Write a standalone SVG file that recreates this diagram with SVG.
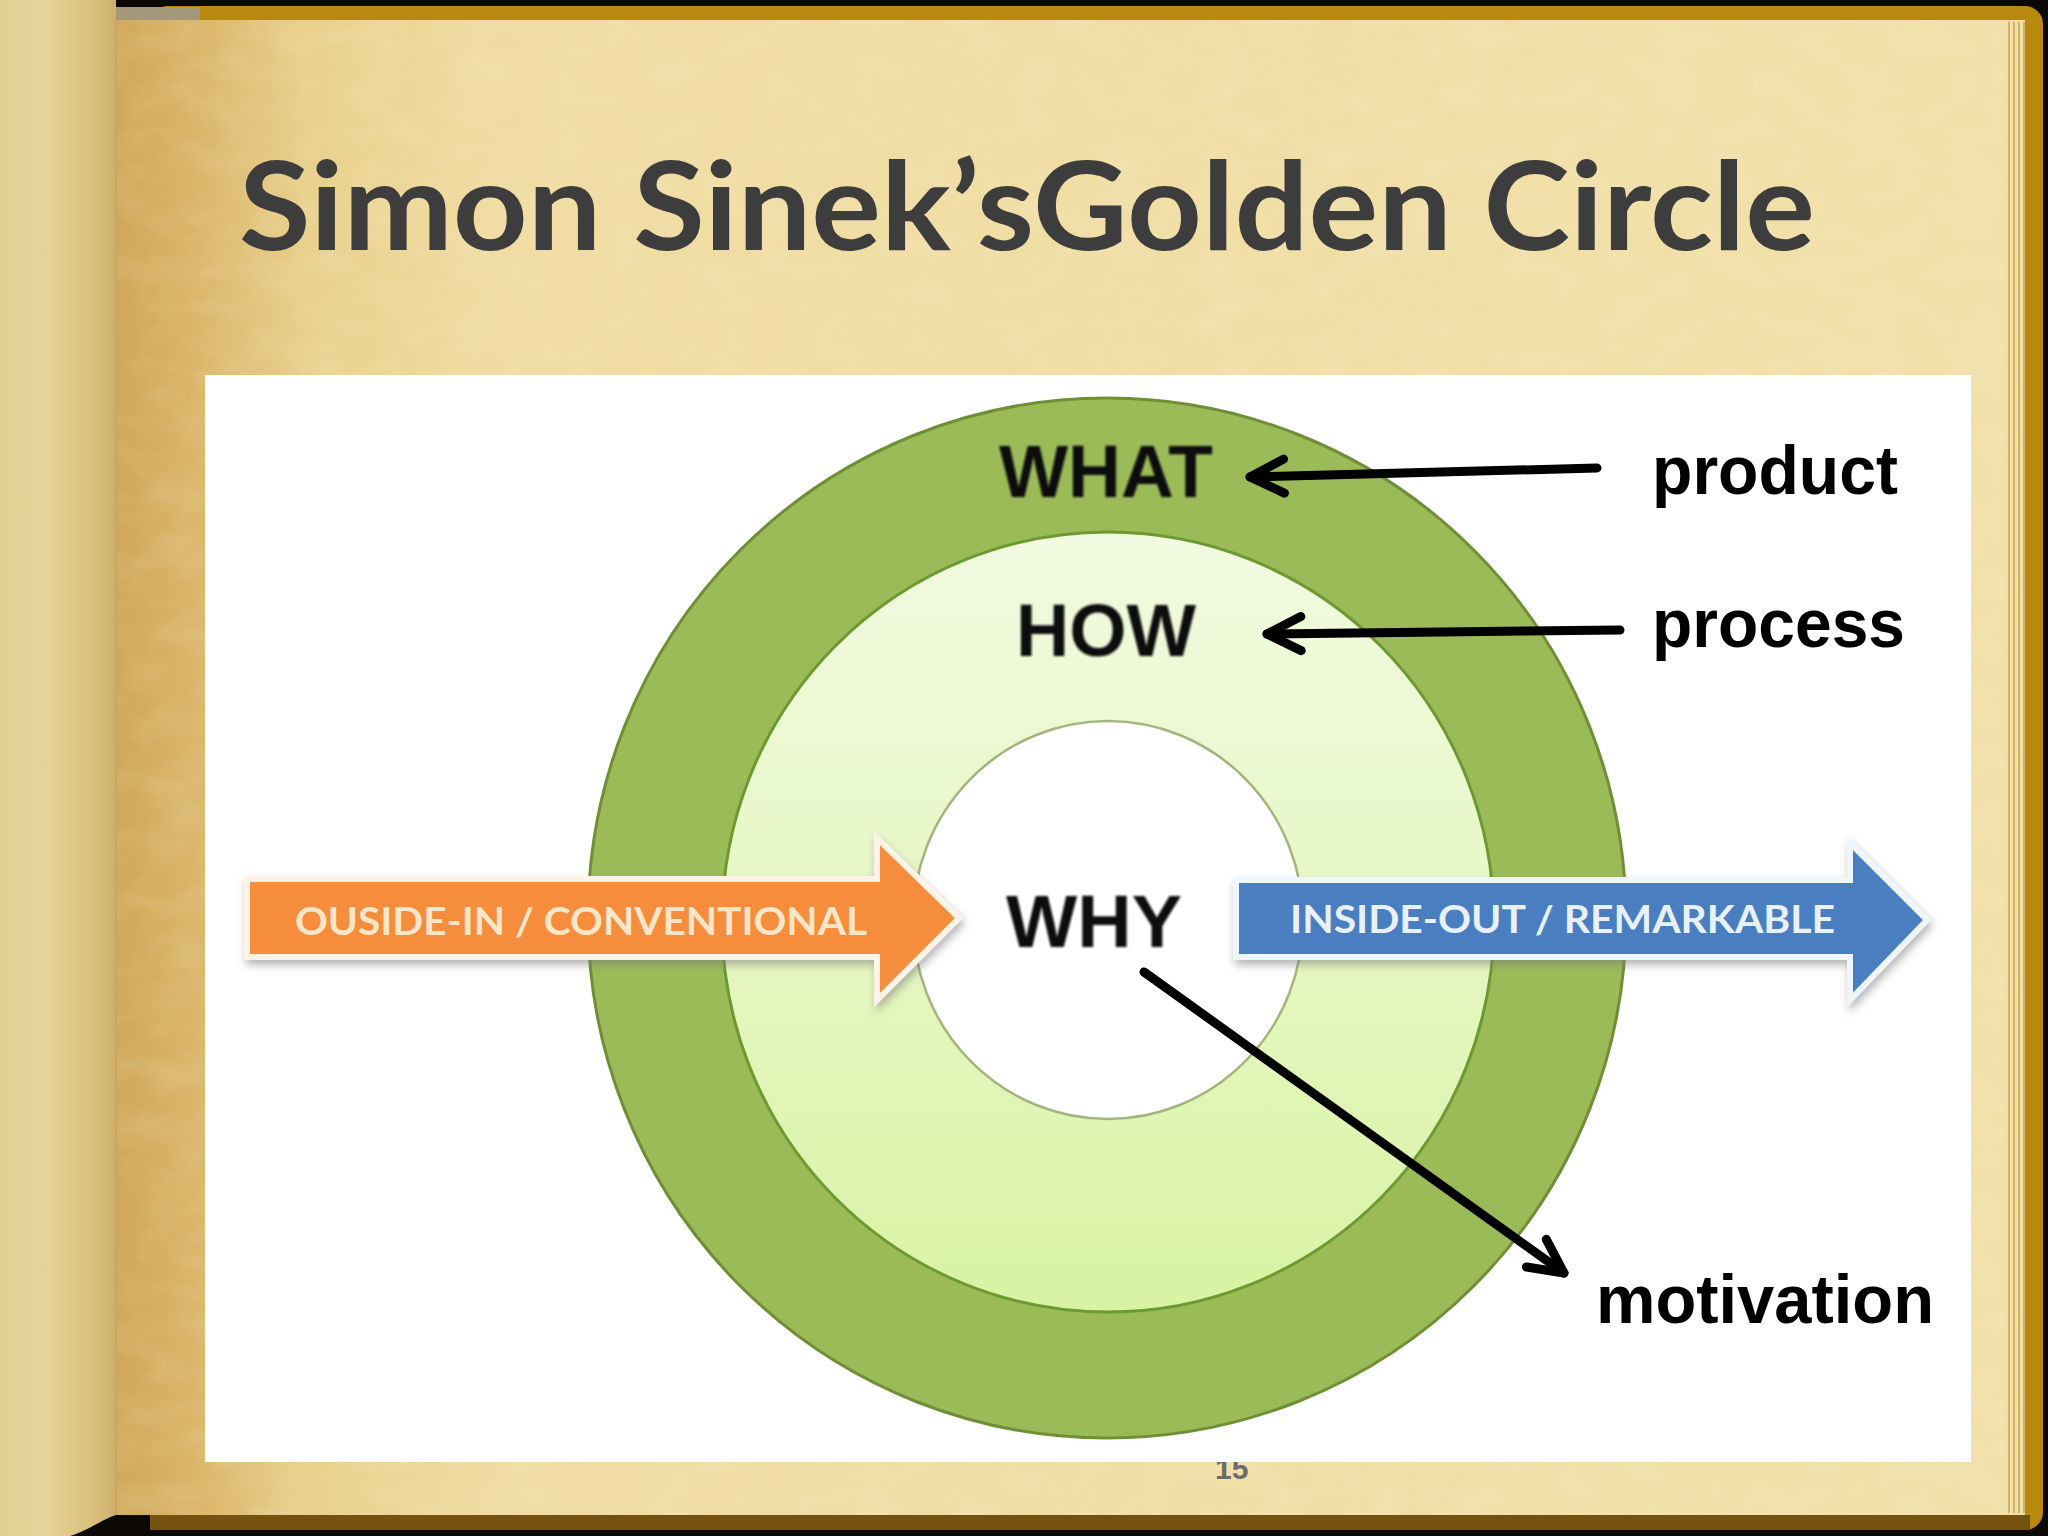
<svg xmlns="http://www.w3.org/2000/svg" width="2048" height="1536" viewBox="0 0 2048 1536">
  <defs>
    <linearGradient id="pageGrad" gradientUnits="userSpaceOnUse" x1="115" y1="0" x2="2005" y2="0">
      <stop offset="0" stop-color="#cfa858"/>
      <stop offset="0.05" stop-color="#dcb96e"/>
      <stop offset="0.1" stop-color="#e9d08c"/>
      <stop offset="0.2" stop-color="#f0dca2"/>
      <stop offset="1" stop-color="#f1e0a9"/>
    </linearGradient>
    <linearGradient id="leftGrad" gradientUnits="userSpaceOnUse" x1="0" y1="0" x2="115" y2="0">
      <stop offset="0" stop-color="#e2cf92"/>
      <stop offset="0.35" stop-color="#e6d59b"/>
      <stop offset="0.8" stop-color="#d9c07c"/>
      <stop offset="1" stop-color="#cdb06a"/>
    </linearGradient>
    <linearGradient id="howGrad" x1="0" y1="0" x2="0" y2="1">
      <stop offset="0" stop-color="#f1fae0"/>
      <stop offset="0.5" stop-color="#e6f7c4"/>
      <stop offset="1" stop-color="#d8f3a2"/>
    </linearGradient>
    <filter id="paper" x="0" y="0" width="100%" height="100%">
      <feTurbulence type="fractalNoise" baseFrequency="0.02 0.035" numOctaves="3" seed="4"/>
      <feColorMatrix type="matrix" values="0 0 0 0 1  0 0 0 0 0.98  0 0 0 0 0.9  0 0 0 0.9 -0.35"/>
    </filter>
    <filter id="shadow" x="-10%" y="-30%" width="120%" height="160%">
      <feDropShadow dx="2" dy="5" stdDeviation="4" flood-color="#7a7a7a" flood-opacity="0.55"/>
    </filter>
    <filter id="soft" x="-5%" y="-5%" width="110%" height="110%">
      <feGaussianBlur stdDeviation="0.8"/>
    </filter>
    <marker id="chev" markerUnits="userSpaceOnUse" markerWidth="60" markerHeight="60" viewBox="-45 -30 60 60" refX="0" refY="0" orient="auto">
      <path d="M -34 -17 L 0 0 L -34 17" fill="none" stroke="#000" stroke-width="9" stroke-linecap="round" stroke-linejoin="round"/>
    </marker>
  </defs>
  <style>
    .title { font-family: Lato, "Open Sans", "Liberation Sans", sans-serif; font-weight: bold; font-size: 122px; fill: #3d3d3d; }
    .ring { font-family: "Liberation Sans", Arial, sans-serif; font-weight: bold; font-size: 75px; fill: #111; }
    .label { font-family: "Liberation Sans", Arial, sans-serif; font-weight: bold; font-size: 68px; fill: #000; }
    .arrtxt { font-family: Lato, "Open Sans", "Liberation Sans", sans-serif; font-weight: bold; font-size: 38px; }
    .conn { fill: none; stroke: #000; stroke-width: 9; stroke-linecap: round; marker-end: url(#chev); }
    .pnum { font-family: "Liberation Sans", Arial, sans-serif; font-weight: bold; font-size: 30px; fill: #6b6b6b; }
  </style>

  <!-- book background -->
  <g id="book">
    <rect x="0" y="0" width="2048" height="1536" fill="#0b0806"/>
    <rect x="150" y="6" width="1893" height="1524" rx="18" fill="#b8880f"/>
    <rect x="150" y="1515" width="1880" height="15" fill="#74520f"/>
    <rect x="100" y="7" width="100" height="13" fill="#a39878"/>
    <rect x="115" y="20" width="1910" height="1495" fill="#f0dfa6"/>
    <g stroke="#c8a44a" stroke-width="1.5">
      <line x1="2009" y1="22" x2="2009" y2="1513"/>
      <line x1="2014" y1="22" x2="2014" y2="1513"/>
      <line x1="2019" y1="22" x2="2019" y2="1513"/>
      <line x1="2024" y1="22" x2="2024" y2="1513"/>
    </g>
    <rect x="115" y="20" width="1890" height="1495" fill="url(#pageGrad)"/>
    <rect x="115" y="20" width="1890" height="1495" filter="url(#paper)" opacity="0.28"/>
    <path d="M0 0 H116 V1515 C 100 1520 90 1530 70 1536 H0 Z" fill="url(#leftGrad)"/>
    <line x1="116" y1="20" x2="116" y2="1515" stroke="#c9a760" stroke-width="2"/>
  </g>

  <g id="title">
    <text class="title" x="239" y="250" textLength="1576" lengthAdjust="spacingAndGlyphs">Simon Sinek’sGolden Circle</text>
  </g>

  <g id="page-number">
    <text class="pnum" x="1215" y="1479">15</text>
  </g>

  <g id="panel">
    <rect x="205" y="375" width="1766" height="1087" fill="#ffffff"/>
  </g>

  <g id="what-circle">
    <ellipse cx="1107" cy="918" rx="519" ry="520" fill="#9bbb59" stroke="#6f8f35" stroke-width="3"/>
  </g>
  <g id="how-circle">
    <ellipse cx="1108" cy="922" rx="386" ry="390" fill="url(#howGrad)" stroke="#6c9a30" stroke-width="3"/>
  </g>
  <g id="why-circle">
    <ellipse cx="1108" cy="920" rx="195" ry="199" fill="#ffffff" stroke="#a3b57c" stroke-width="2.5"/>
  </g>

  <g id="what" filter="url(#soft)">
    <text class="ring" x="999" y="497" textLength="214" lengthAdjust="spacingAndGlyphs">WHAT</text>
  </g>
  <g id="how" filter="url(#soft)">
    <text class="ring" x="1016" y="656" textLength="180" lengthAdjust="spacingAndGlyphs">HOW</text>
  </g>
  <g id="why" filter="url(#soft)">
    <text class="ring" x="1006" y="947" textLength="176" lengthAdjust="spacingAndGlyphs">WHY</text>
  </g>

  <g id="outside-in">
    <path d="M247 879 H877 V838 L959 918 L877 1000 V957 H247 Z" fill="#f58d3d" stroke="#fdf3e6" stroke-width="6" stroke-linejoin="miter" filter="url(#shadow)"/>
    <text class="arrtxt" x="295" y="935" fill="#fde6c8" textLength="572" lengthAdjust="spacingAndGlyphs">OUSIDE-IN / CONVENTIONAL</text>
  </g>

  <g id="inside-out">
    <path d="M1236 880 H1850 V843 L1927 920 L1850 1000 V957 H1236 Z" fill="#4a7fc1" stroke="#eef5fb" stroke-width="6" stroke-linejoin="miter" filter="url(#shadow)"/>
    <text class="arrtxt" x="1290" y="933" fill="#e8f1fa" textLength="545" lengthAdjust="spacingAndGlyphs">INSIDE-OUT / REMARKABLE</text>
  </g>

  <g id="product">
    <text class="label" x="1652" y="494" textLength="246" lengthAdjust="spacingAndGlyphs">product</text>
  </g>
  <g id="process">
    <text class="label" x="1652" y="647" textLength="253" lengthAdjust="spacingAndGlyphs">process</text>
  </g>
  <g id="motivation">
    <text class="label" x="1596" y="1323" textLength="338" lengthAdjust="spacingAndGlyphs">motivation</text>
  </g>

  <g id="connectors">
    <path class="conn" d="M1597 468 L1250 477"/>
    <path class="conn" d="M1620 630 L1267 634"/>
    <path class="conn" d="M1144 972 L1564 1273"/>
  </g>
</svg>
